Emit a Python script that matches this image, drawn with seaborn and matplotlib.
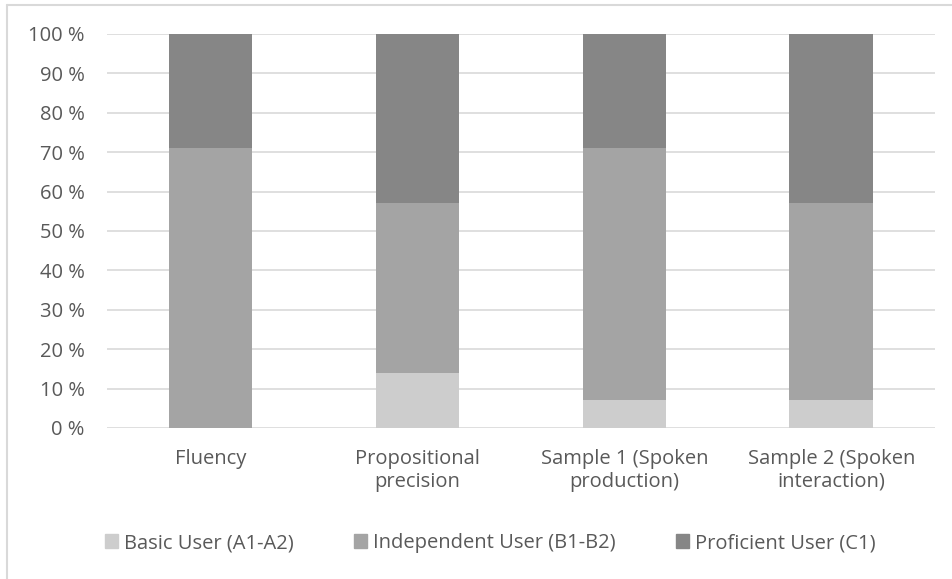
import matplotlib
matplotlib.use("Agg")
import matplotlib.pyplot as plt
import matplotlib.patches as mpatches
from matplotlib.lines import Line2D
import numpy as np
import pandas as pd
import seaborn as sns

categories = ["Fluency", "Propositional\nprecision", "Sample 1 (Spoken\nproduction)",
              "Sample 2 (Spoken\ninteraction)"]
series = ["Basic User (A1-A2)", "Independent User (B1-B2)", "Proficient User (C1)"]
basic = [0, 14, 7, 7]
independent = [71, 43, 64, 50]
proficient = [29, 43, 29, 43]
colors = ["#cdcdcd", "#a4a4a4", "#868686"]

sns.set_theme(style="white")
plt.rcParams["font.family"] = ["Open Sans", "DejaVu Sans"]

# cumulative tops, drawn tallest first so the shorter ones sit on top
tops = np.cumsum(np.array([basic, independent, proficient]), axis=0)
rows = []
for s, vals in zip(series, tops):
    for c, v in zip(categories, vals):
        rows.append({"category": c, "series": s, "top": v})
df = pd.DataFrame(rows)

fig = plt.figure(figsize=(9.52, 5.79), dpi=100)
ax = fig.add_axes([0.1124, 0.2608, 0.8696, 0.6805])

for s, col in reversed(list(zip(series, colors))):
    sns.barplot(data=df[df["series"] == s], x="category", y="top", color=col,
                width=0.405, ax=ax, zorder=3, saturation=1, linewidth=0)

ax.set_ylim(0, 100)
ax.set_xlim(-0.5, 3.5)
ax.set_yticks(range(0, 101, 10))
ax.set_yticklabels([f"{v} %" for v in range(0, 101, 10)])
ax.yaxis.grid(True, color="#d9d9d9", linewidth=1.2, zorder=0)
ax.set_axisbelow(True)
for sp in ax.spines.values():
    sp.set_visible(False)
ax.set_xlabel("")
ax.set_ylabel("")
ax.tick_params(axis="both", length=0, labelsize=14.5, labelcolor="#595959")
ax.tick_params(axis="y", pad=16)
ax.tick_params(axis="x", pad=15)

handles = [mpatches.Patch(color=c, label=s) for s, c in zip(series, colors)]
fig.legend(handles=handles, loc="center", bbox_to_anchor=(0.515, 0.062), ncol=3,
           frameon=False, fontsize=14.5, labelcolor="#595959", handlelength=0.65,
           handleheight=0.65, handletextpad=0.3, columnspacing=3.0)

# chart-area border (only left and top edges are inside the picture)
fig.add_artist(Line2D([0.0074, 0.0074], [0, 0.991], transform=fig.transFigure,
                      color="#d9d9d9", linewidth=1.5))
fig.add_artist(Line2D([0.0074, 1], [0.991, 0.991], transform=fig.transFigure,
                      color="#d9d9d9", linewidth=1.5))

fig.savefig("out.png", dpi=100)
